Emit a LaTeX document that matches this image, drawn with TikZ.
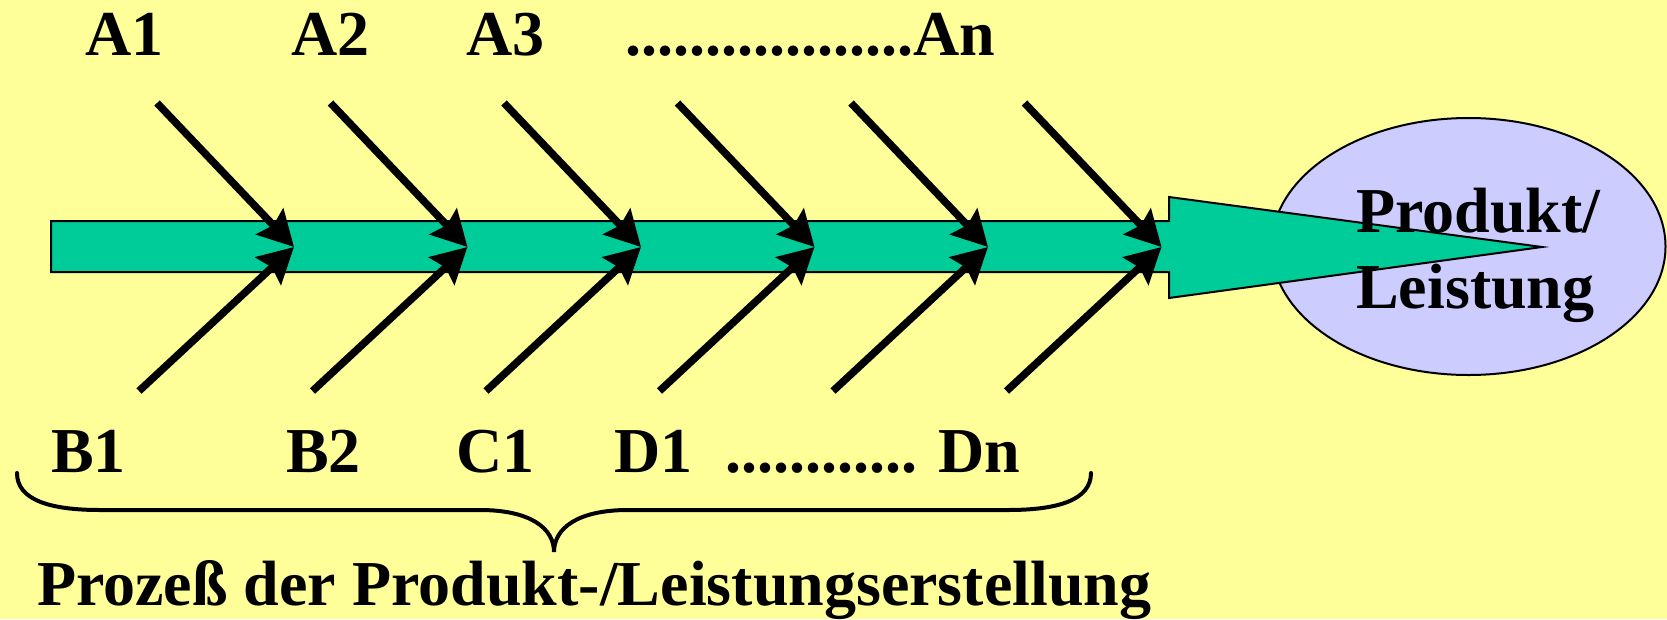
\documentclass[tikz,border=0pt]{standalone}
\usepackage{fontspec}
\setmainfont{Liberation Serif}
\usetikzlibrary{arrows.meta,shapes.geometric}
\definecolor{bgyellow}{HTML}{FFFF99}
\definecolor{bargreen}{HTML}{00CC99}
\definecolor{lav}{HTML}{CCCCFF}
\tikzset{
  fish/.style={line width=7.5pt,-{Stealth[length=35pt,width=37pt,inset=5pt]}},
  lbl/.style={anchor=base west,inner sep=0pt,font=\fontsize{64}{76}\selectfont\bfseries},
  outl/.style={draw=black,line width=2pt},
  bracestyle/.style={line width=4pt,line cap=round}
}
\begin{document}
\begin{tikzpicture}[x=1pt,y=-1pt]
\useasboundingbox (0,0) rectangle (1667,619);
\fill[bgyellow] (0,0) rectangle (1667,619);
% product ellipse
\node[ellipse,outl,fill=lav,minimum width=394pt,minimum height=257pt,inner sep=0pt] (ell) at (1468.5,246.5) {};
% main process arrow
\filldraw[outl,fill=bargreen,line join=miter]
  (51,221) -- (1169,221) -- (1169,197) -- (1542,247) -- (1169,298) -- (1169,272) -- (51,272) -- cycle;
% fishbone arrows
\foreach \i in {0,...,5} {
  \pgfmathsetmacro\tx{294+173.5*\i}
  \pgfmathsetmacro\ax{157+173.5*\i}
  \pgfmathsetmacro\bx{139+173.5*\i}
  \coordinate (tip\i) at (\tx,247);
  \coordinate (a\i) at (\ax,103);
  \coordinate (b\i) at (\bx,391);
  \draw[fish] (a\i) -- (tip\i);
  \draw[fish] (b\i) -- (tip\i);
}
% top labels
\node[lbl] (A1) at (85,55) {A1};
\node[lbl] (A2) at (291,55) {A2};
\node[lbl] (A3) at (466,55) {A3};
\node[lbl] (An) at (625,55) {..................An};
% bottom labels
\node[lbl] (B1) at (51,472) {B1};
\node[lbl] (B2) at (286,472) {B2};
\node[lbl] (C1) at (456,472) {C1};
\node[lbl] (D1) at (614,472) {D1};
\node[lbl] (Dn) at (725,472) {............ Dn};
% product text
\node[lbl,align=left] (prod) at (1356,308) {Produkt/\\Leistung};
% brace
\draw[bracestyle] (17,473) .. controls (17,500) and (50,510) .. (100,510)
  -- (480,510) .. controls (530,510) and (554,528) .. (554,552)
  .. controls (554,528) and (578,510) .. (628,510)
  -- (1008,510) .. controls (1058,510) and (1091,500) .. (1091,473);
\coordinate (bracetip) at (554,552);
% title
\node[lbl] (title) at (37,605) {Prozeß der Produkt-/Leistungserstellung};
\end{tikzpicture}
\end{document}
